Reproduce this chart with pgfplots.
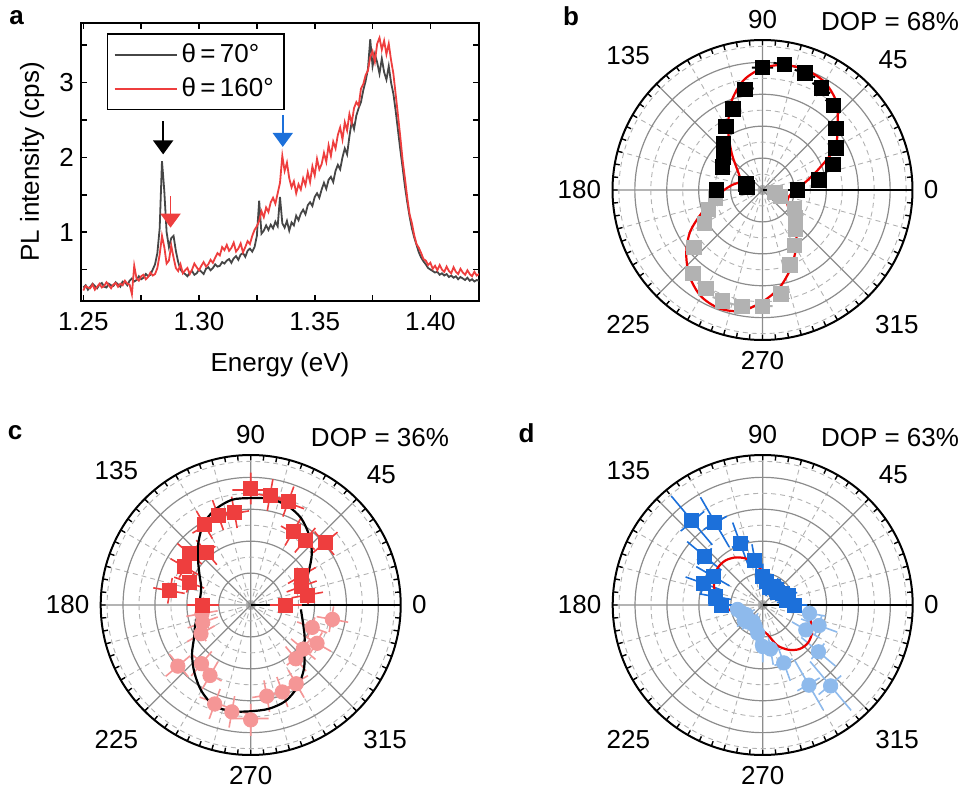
\documentclass[border=0pt]{standalone}
\usepackage{pgfplots}
\pgfplotsset{compat=1.18}
\usepackage{pgfplotstable}
\usepgfplotslibrary{polar}
\usetikzlibrary{arrows.meta}
\usepackage{fontspec}
\setmainfont{Liberation Sans}
\definecolor{dgray}{RGB}{70,70,70}
\definecolor{sred}{RGB}{238,62,62}
\definecolor{fitred}{RGB}{235,0,0}
\definecolor{pink}{RGB}{245,150,150}
\definecolor{lgray}{RGB}{178,178,178}
\definecolor{dblue}{RGB}{28,112,218}
\definecolor{lblue}{RGB}{142,186,236}

\pgfplotstableread{
x g r
1.250 .26 .22
1.251 .29 .28
1.252 .23 .26
1.253 .27 .25
1.254 .31 .30
1.255 .28 .23
1.256 .25 .27
1.257 .30 .31
1.258 .32 .26
1.259 .27 .28
1.260 .26 .33
1.261 .31 .29
1.262 .29 .25
1.263 .28 .30
1.264 .33 .32
1.265 .30 .27
1.266 .27 .31
1.267 .34 .29
1.268 .33 .35
1.269 .29 .31
1.270 .35 .30
1.271 .38 .17
1.272 .34 .55
1.273 .36 .38
1.274 .41 .35
1.275 .37 .41
1.276 .39 .43
1.277 .44 .37
1.278 .41 .40
1.279 .43 .46
1.280 .50 .42
1.281 .57 .44
1.282 .72 .52
1.283 1.05 .70
1.284 1.95 .95
1.285 1.55 .80
1.286 1.00 .58
1.287 .80 .62
1.288 .92 .82
1.289 .95 .66
1.290 .75 .52
1.291 .60 .48
1.292 .50 .57
1.293 .46 .45
1.294 .44 .49
1.295 .41 .52
1.296 .46 .44
1.297 .48 .50
1.298 .43 .58
1.299 .45 .53
1.300 .50 .49
1.301 .47 .55
1.302 .44 .60
1.303 .51 .54
1.304 .53 .57
1.305 .49 .63
1.306 .52 .59
1.307 .57 .66
1.308 .54 .72
1.309 .55 .69
1.310 .60 .80
1.311 .58 .76
1.312 .62 .83
1.313 .64 .75
1.314 .59 .79
1.315 .65 .86
1.316 .68 .74
1.317 .63 .78
1.318 .70 .85
1.319 .72 .73
1.320 .67 .80
1.321 .75 .88
1.322 .78 .84
1.323 .74 .95
1.324 .80 1.03
1.325 .95 1.08
1.326 1.42 1.15
1.327 .98 1.28
1.328 1.02 1.20
1.329 1.09 1.33
1.330 1.03 1.27
1.331 1.10 1.40
1.332 1.05 1.46
1.333 1.14 1.38
1.334 1.08 1.52
1.335 1.47 1.66
1.336 1.12 2.02
1.337 1.06 1.82
1.338 1.15 1.93
1.339 1.02 1.72
1.340 1.13 1.60
1.341 1.09 1.68
1.342 1.22 1.52
1.343 1.16 1.64
1.344 1.25 1.57
1.345 1.30 1.72
1.346 1.24 1.63
1.347 1.36 1.80
1.348 1.40 1.67
1.349 1.35 1.88
1.350 1.47 1.76
1.351 1.52 1.98
1.352 1.46 1.84
1.353 1.57 1.91
1.354 1.66 2.06
1.355 1.58 1.94
1.356 1.70 2.16
1.357 1.74 2.02
1.358 1.67 2.21
1.359 1.82 2.12
1.360 1.90 2.30
1.361 1.84 2.40
1.362 2.00 2.24
1.363 2.12 2.47
1.364 2.04 2.36
1.365 2.28 2.58
1.366 2.48 2.46
1.367 2.38 2.66
1.368 2.56 2.74
1.369 2.66 2.69
1.370 2.74 2.92
1.371 2.90 2.98
1.372 3.02 3.10
1.373 3.18 3.16
1.374 3.58 3.34
1.375 3.22 3.42
1.376 3.38 3.28
1.377 3.27 3.52
1.378 3.12 3.60
1.379 3.32 3.44
1.380 3.14 3.56
1.381 3.04 3.38
1.382 3.22 3.52
1.383 3.00 3.30
1.384 2.85 3.12
1.385 2.62 2.84
1.386 2.36 2.56
1.387 2.10 2.27
1.388 1.86 1.96
1.389 1.61 1.72
1.390 1.40 1.46
1.391 1.21 1.24
1.392 1.05 1.12
1.393 .93 .96
1.394 .83 .84
1.395 .73 .79
1.396 .66 .72
1.397 .61 .64
1.398 .57 .62
1.399 .52 .56
1.400 .50 .59
1.401 .48 .51
1.402 .46 .55
1.403 .47 .49
1.404 .43 .56
1.405 .45 .50
1.406 .42 .47
1.407 .44 .54
1.408 .40 .48
1.409 .42 .45
1.410 .39 .53
1.411 .41 .47
1.412 .37 .44
1.413 .40 .51
1.414 .38 .46
1.415 .36 .43
1.416 .39 .49
1.417 .35 .44
1.418 .37 .41
1.419 .34 .47
1.420 .36 .42
1.421 .35 .44
}\spec

\pgfplotsset{
  /pgf/number format/assume math mode=true,
  mypolar/.style={
    scale only axis, width=150pt, height=150pt,
    anchor=center,
    ymin=0, ymax=4.7,
    xtick={0,45,...,315},
    xticklabels={0,45,90,135,180,225,270,315},
    minor xtick={15,30,60,75,105,120,150,165,195,210,240,255,285,300,330,345},
    extra x ticks={5,10,20,25,35,40,50,55,65,70,80,85,95,100,110,115,125,130,140,145,155,160,170,175,185,190,200,205,215,220,230,235,245,250,260,265,275,280,290,295,305,310,320,325,335,340,350,355},
    extra x tick labels={},
    extra x tick style={grid=none},
    ytick={1,2,3,4}, minor ytick={0.5,1.5,2.5,3.5,4.5},
    yticklabels={},
    ytick style={draw=none},
    xmajorgrids, xminorgrids, ymajorgrids, yminorgrids,
    major grid style={draw=black!45, line width=0.6pt},
    minor grid style={draw=black!30, line width=0.45pt, dash pattern=on 2.5pt off 2pt},
    tick align=outside, major tick length=2.5pt, minor tick length=2.5pt,
    xtick style={line width=0.7pt, black},
    axis line style={line width=1pt},
    xticklabel style={inner sep=8pt},
    unbounded coords=jump,
  }
}

\begin{document}
\begin{tikzpicture}[font=\fontsize{13}{15}\selectfont]
\useasboundingbox (0,0) rectangle (482pt,-398pt);

% ---------- panel a ----------
\begin{axis}[
  at={(40.5pt,-11.4pt)}, anchor=north west,
  scale only axis, width=199pt, height=139pt,
  xmin=1.249, xmax=1.421, ymin=0.082, ymax=3.80,
  xtick={1.25,1.30,1.35,1.40}, minor xtick={1.275,1.325,1.375,1.425},
  ytick={1,2,3}, minor ytick={0.5,1.5,2.5,3.5},
  xticklabel style={yshift=-2pt, /pgf/number format/fixed, /pgf/number format/fixed zerofill, /pgf/number format/precision=2},
  tick align=inside, major tick length=3pt, minor tick length=3pt,
  tick style={line width=0.8pt, black},
  axis line style={line width=1pt},
  xlabel={Energy (eV)}, ylabel={PL intensity (cps)},
  xlabel style={at={(axis description cs:0.5,-0.23)}, anchor=center},
  ylabel style={at={(axis description cs:-0.123,0.5)}, anchor=center},
  legend style={at={(0.065,0.963)}, anchor=north west, draw=black, line width=0.8pt,
    inner xsep=3pt, inner ysep=3pt, row sep=2pt,
    font=\fontsize{13}{15}\selectfont},
  legend cell align=left,
  legend image code/.code={\draw[#1, line width=1pt] (0pt,0pt) -- (31pt,0pt);},
]
\addplot[dgray, line width=0.9pt] table[x=x, y=g] {\spec};
\addlegendentry{θ\,=\,70°}
\addplot[sred, line width=0.9pt] table[x=x, y=r] {\spec};
\addlegendentry{θ\,=\,160°}
\draw[black, line width=0.9pt, -{Triangle[width=10pt,length=7pt]}] (axis cs:1.2845,2.48) -- (axis cs:1.2845,2.04);
\draw[sred, line width=0.9pt, -{Triangle[width=10pt,length=7pt]}] (axis cs:1.2877,1.48) -- (axis cs:1.2877,1.06);
\draw[dblue, line width=0.9pt, -{Triangle[width=10pt,length=7pt]}] (axis cs:1.3362,2.57) -- (axis cs:1.3362,2.14);
\end{axis}

% ---------- panel b ----------
\begin{polaraxis}[mypolar, at={(381.25pt,-95pt)}]
\addplot[lgray, line width=1pt] coordinates {
(190,1.35)(190,1.65)(190,nan) (185,1.5)(195,1.5)(190,nan)
(200,1.65)(200,1.95)(200,nan) (195,1.8)(205,1.8)(200,nan)
(210,1.95)(210,2.25)(210,nan) (205,2.1)(215,2.1)(210,nan)
(220,2.65)(220,2.95)(220,nan) (215,2.8)(225,2.8)(220,nan)
(230,3.25)(230,3.55)(230,nan) (225,3.4)(235,3.4)(230,nan)
(240,3.4)(240,3.7)(240,nan) (235,3.55)(245,3.55)(240,nan)
(250,3.55)(250,3.85)(250,nan) (245,3.7)(255,3.7)(250,nan)
(260,3.55)(260,3.85)(260,nan) (255,3.7)(265,3.7)(260,nan)
(270,3.5)(270,3.8)(270,nan) (265,3.65)(275,3.65)(270,nan)
(280,3.15)(280,3.45)(280,nan) (275,3.3)(285,3.3)(280,nan)
(290,2.35)(290,2.65)(290,nan) (285,2.5)(295,2.5)(290,nan)
(300,1.85)(300,2.15)(300,nan) (295,2.0)(305,2.0)(300,nan)
(310,1.45)(310,1.75)(310,nan) (305,1.6)(315,1.6)(310,nan)
(320,1.2)(320,1.5)(320,nan) (315,1.35)(325,1.35)(320,nan)
(330,1.0)(330,1.3)(330,nan) (325,1.15)(335,1.15)(330,nan)
(340,0.45)(340,0.75)(340,nan) (335,0.6)(345,0.6)(340,nan)
(350,0.25)(350,0.55)(350,nan) (345,0.4)(355,0.4)(350,nan)};
\addplot[only marks, mark=square*, mark size=3.6pt, lgray] coordinates {
  (190,1.5) (200,1.8) (210,2.1) (220,2.8) (230,3.4) (240,3.55) (250,3.7)
  (260,3.7) (270,3.65) (280,3.3) (290,2.5) (300,2.0) (310,1.6) (320,1.35)
  (330,1.15) (340,0.6) (350,0.4)};
\addplot[black, line width=1pt] coordinates {
(0,0.95)(0,1.25)(0,nan) (-5,1.1)(5,1.1)(0,nan)
(10,1.65)(10,1.95)(10,nan) (5,1.8)(15,1.8)(10,nan)
(20,2.2)(20,2.5)(20,nan) (15,2.35)(25,2.35)(20,nan)
(30,2.5)(30,2.8)(30,nan) (25,2.65)(35,2.65)(30,nan)
(40,2.85)(40,3.15)(40,nan) (35,3.0)(45,3.0)(40,nan)
(50,3.3)(50,3.6)(50,nan) (45,3.45)(55,3.45)(50,nan)
(60,3.55)(60,3.85)(60,nan) (55,3.7)(65,3.7)(60,nan)
(70,3.75)(70,4.05)(70,nan) (65,3.9)(75,3.9)(70,nan)
(80,3.85)(80,4.15)(80,nan) (75,4.0)(85,4.0)(80,nan)
(90,3.7)(90,4.0)(90,nan) (85,3.85)(95,3.85)(90,nan)
(100,3.05)(100,3.35)(100,nan) (95,3.2)(105,3.2)(100,nan)
(110,2.55)(110,2.85)(110,nan) (105,2.7)(115,2.7)(110,nan)
(120,2.15)(120,2.45)(120,nan) (115,2.3)(125,2.3)(120,nan)
(130,1.75)(130,2.05)(130,nan) (125,1.9)(135,1.9)(130,nan)
(140,1.45)(140,1.75)(140,nan) (135,1.6)(145,1.6)(140,nan)
(150,1.3)(150,1.6)(150,nan) (145,1.45)(155,1.45)(150,nan)
(160,0.4)(160,0.7)(160,nan) (155,0.55)(165,0.55)(160,nan)
(170,0.35)(170,0.65)(170,nan) (165,0.5)(175,0.5)(170,nan)
(180,1.3)(180,1.6)(180,nan) (175,1.45)(185,1.45)(180,nan)};
\addplot[only marks, mark=square*, mark size=3.6pt, black] coordinates {
  (0,1.1) (10,1.8) (20,2.35) (30,2.65) (40,3.0) (50,3.45) (60,3.7) (70,3.9)
  (80,4.0) (90,3.85) (100,3.2) (110,2.7) (120,2.3) (130,1.9) (140,1.6)
  (150,1.45) (160,0.55) (170,0.5) (180,1.45)};
\addplot[fitred, line width=1.1pt, smooth] coordinates {
  (0,1.0) (10,1.35) (20,1.85) (30,2.62) (40,3.07) (50,3.6) (60,3.9)
  (70,4.0) (80,3.98) (90,3.82) (100,3.48) (110,2.9) (120,2.15) (130,1.5)
  (140,1.05) (150,0.82) (160,0.75) (170,0.95) (180,1.2) (190,1.5) (200,2.0)
  (210,2.62) (220,3.12) (230,3.55) (240,3.85) (250,3.95) (260,3.85)
  (270,3.5) (280,3.1) (290,2.6) (300,2.1) (310,1.63) (320,1.15) (330,0.9)
  (340,0.84) (350,0.88) (360,1.0)};
\end{polaraxis}

% ---------- panel c ----------
\begin{polaraxis}[mypolar, at={(125.35pt,-302.5pt)}]
\addplot[pink, line width=0.8pt] coordinates {
(190,1.05)(190,2.05)(190,nan)(181,1.55)(199,1.55)(190,nan)
(200,1.1)(200,2.1)(200,nan)(191,1.6)(209,1.6)(200,nan)
(210,1.3)(210,2.3)(210,nan)(201,1.8)(219,1.8)(210,nan)
(220,2.48)(220,3.48)(220,nan)(211,2.98)(229,2.98)(220,nan)
(230,1.9)(230,2.9)(230,nan)(221,2.4)(239,2.4)(230,nan)
(240,2.05)(240,3.05)(240,nan)(231,2.55)(249,2.55)(240,nan)
(250,2.8)(250,3.8)(250,nan)(241,3.3)(259,3.3)(250,nan)
(260,2.9)(260,3.9)(260,nan)(251,3.4)(269,3.4)(260,nan)
(270,3.1)(270,4.1)(270,nan)(261,3.6)(279,3.6)(270,nan)
(280,2.4)(280,3.4)(280,nan)(271,2.9)(289,2.9)(280,nan)
(290,2.4)(290,3.4)(290,nan)(281,2.9)(299,2.9)(290,nan)
(300,2.35)(300,3.35)(300,nan)(291,2.85)(309,2.85)(300,nan)
(310,1.7)(310,2.7)(310,nan)(301,2.2)(319,2.2)(310,nan)
(320,1.65)(320,2.65)(320,nan)(311,2.15)(329,2.15)(320,nan)
(330,1.9)(330,2.9)(330,nan)(321,2.4)(339,2.4)(330,nan)
(340,1.55)(340,2.55)(340,nan)(331,2.05)(349,2.05)(340,nan)
(350,2.1)(350,3.1)(350,nan)(341,2.6)(359,2.6)(350,nan)};
\addplot[only marks, mark=*, mark size=3.6pt, pink] coordinates {
  (190,1.55) (200,1.6) (210,1.8) (220,2.98) (230,2.4) (240,2.55) (250,3.3)
  (260,3.4) (270,3.6) (280,2.9) (290,2.9) (300,2.85) (310,2.2) (320,2.15)
  (330,2.4) (340,2.05) (350,2.6)};
\addplot[sred, line width=0.8pt] coordinates {
(0,0.6)(0,1.6)(0,nan)(-9,1.1)(9,1.1)(0,nan)
(10,1.3)(10,2.3)(10,nan)(1,1.8)(19,1.8)(10,nan)
(20,1.2)(20,2.2)(20,nan)(11,1.7)(29,1.7)(20,nan)
(30,1.35)(30,2.35)(30,nan)(21,1.85)(39,1.85)(30,nan)
(40,2.55)(40,3.55)(40,nan)(31,3.05)(49,3.05)(40,nan)
(50,2.15)(50,3.15)(50,nan)(41,2.65)(59,2.65)(50,nan)
(60,2.15)(60,3.15)(60,nan)(51,2.65)(69,2.65)(60,nan)
(70,2.95)(70,3.95)(70,nan)(61,3.45)(79,3.45)(70,nan)
(80,3.0)(80,4.0)(80,nan)(71,3.5)(89,3.5)(80,nan)
(90,3.15)(90,4.15)(90,nan)(81,3.65)(99,3.65)(90,nan)
(100,2.45)(100,3.45)(100,nan)(91,2.95)(109,2.95)(100,nan)
(110,2.5)(110,3.5)(110,nan)(101,3.0)(119,3.0)(110,nan)
(120,2.4)(120,3.4)(120,nan)(111,2.9)(129,2.9)(120,nan)
(130,1.65)(130,2.65)(130,nan)(121,2.15)(139,2.15)(130,nan)
(140,2.0)(140,3.0)(140,nan)(131,2.5)(149,2.5)(140,nan)
(150,1.9)(150,2.9)(150,nan)(141,2.4)(159,2.4)(150,nan)
(160,1.55)(160,2.55)(160,nan)(151,2.05)(169,2.05)(160,nan)
(170,2.1)(170,3.1)(170,nan)(161,2.6)(179,2.6)(170,nan)
(180,1.0)(180,2.0)(180,nan)(171,1.5)(189,1.5)(180,nan)};
\addplot[only marks, mark=square*, mark size=3.5pt, sred] coordinates {
  (0,1.1) (10,1.8) (20,1.7) (30,1.85) (40,3.05) (50,2.65) (60,2.65) (70,3.45)
  (80,3.5) (90,3.65) (100,2.95) (110,3.0) (120,2.9) (130,2.15) (140,2.5)
  (150,2.4) (160,2.05) (170,2.6) (180,1.5)};
\addplot[black, line width=1.1pt, smooth] coordinates {
  (5,1.58) (10,1.62) (20,1.8) (30,2.1) (40,2.5) (50,2.85) (60,3.15) (70,3.32)
  (80,3.38) (90,3.35) (100,3.35) (110,3.2) (120,2.95) (130,2.55) (140,2.15)
  (150,1.85) (160,1.65) (170,1.6) (180,1.62) (190,1.68) (200,1.85) (210,2.05)
  (220,2.4) (230,2.75) (240,3.1) (250,3.36) (260,3.38) (270,3.33) (280,3.3)
  (290,3.2) (300,2.95) (310,2.6) (320,2.2) (330,1.95) (340,1.75) (350,1.62)
  (355,1.58)};
\end{polaraxis}

% ---------- panel d ----------
\begin{polaraxis}[mypolar, at={(381.35pt,-302.5pt)}]
\addplot[lblue, line width=0.8pt] coordinates {
(190,0.5)(190,1.1)(190,nan)(180,0.8)(200,0.8)(190,nan)
(200,0.4)(200,1.0)(200,nan)(190,0.7)(210,0.7)(200,nan)
(210,0.3)(210,0.9)(210,nan)(200,0.6)(220,0.6)(210,nan)
(220,0.45)(220,1.05)(220,nan)(210,0.75)(230,0.75)(220,nan)
(230,0.4)(230,1.0)(230,nan)(220,0.7)(240,0.7)(230,nan)
(240,0.3)(240,0.9)(240,nan)(230,0.6)(250,0.6)(240,nan)
(250,0.4)(250,1.0)(250,nan)(240,0.7)(260,0.7)(250,nan)
(260,0.5)(260,1.3)(260,nan)(250,0.9)(270,0.9)(260,nan)
(270,0.8)(270,1.8)(270,nan)(260,1.3)(280,1.3)(270,nan)
(280,0.9)(280,1.9)(280,nan)(270,1.4)(290,1.4)(280,nan)
(290,1.33)(290,2.53)(290,nan)(281,1.93)(299,1.93)(290,nan)
(300,2.0)(300,3.8)(300,nan)(292,2.9)(308,2.9)(300,nan)
(310,2.31)(310,4.31)(310,nan)(302,3.31)(318,3.31)(310,nan)
(320,1.58)(320,2.98)(320,nan)(312,2.28)(328,2.28)(320,nan)
(330,1.06)(330,2.06)(330,nan)(321,1.56)(339,1.56)(330,nan)
(340,1.28)(340,2.48)(340,nan)(331,1.88)(349,1.88)(340,nan)
(350,0.99)(350,1.99)(350,nan)(341,1.49)(359,1.49)(350,nan)};
\addplot[only marks, mark=*, mark size=3.6pt, lblue] coordinates {
  (190,0.8) (200,0.7) (210,0.6) (220,0.75) (230,0.7) (240,0.6) (250,0.7)
  (260,0.9) (270,1.3) (280,1.4) (290,1.93) (300,2.9) (310,3.31) (320,2.28)
  (330,1.56) (340,1.88) (350,1.49)};
\addplot[dblue, line width=0.8pt] coordinates {
(0,0.6)(0,1.4)(0,nan)(-10,1.0)(10,1.0)(0,nan)
(10,0.45)(10,1.05)(10,nan)(0,0.75)(20,0.75)(10,nan)
(20,0.55)(20,1.15)(20,nan)(10,0.85)(30,0.85)(20,nan)
(30,0.4)(30,1.0)(30,nan)(20,0.7)(40,0.7)(30,nan)
(40,0.3)(40,0.9)(40,nan)(30,0.6)(50,0.6)(40,nan)
(50,0.35)(50,0.95)(50,nan)(40,0.65)(60,0.65)(50,nan)
(60,0.36)(60,0.96)(60,nan)(50,0.66)(70,0.66)(60,nan)
(70,0.3)(70,0.9)(70,nan)(60,0.6)(80,0.6)(70,nan)
(80,0.45)(80,1.05)(80,nan)(70,0.75)(90,0.75)(80,nan)
(90,0.5)(90,1.3)(90,nan)(80,0.9)(100,0.9)(90,nan)
(100,0.93)(100,1.93)(100,nan)(91,1.43)(109,1.43)(100,nan)
(110,1.35)(110,2.75)(110,nan)(102,2.05)(118,2.05)(110,nan)
(120,2.1)(120,3.9)(120,nan)(112,3.0)(128,3.0)(120,nan)
(130,2.46)(130,4.46)(130,nan)(122,3.46)(138,3.46)(130,nan)
(140,1.69)(140,3.09)(140,nan)(132,2.39)(148,2.39)(140,nan)
(150,1.2)(150,2.4)(150,nan)(141,1.8)(159,1.8)(150,nan)
(160,1.37)(160,2.57)(160,nan)(151,1.97)(169,1.97)(160,nan)
(170,1.01)(170,2.01)(170,nan)(161,1.51)(179,1.51)(170,nan)
(180,0.9)(180,1.7)(180,nan)(170,1.3)(190,1.3)(180,nan)};
\addplot[only marks, mark=square*, mark size=3.5pt, dblue] coordinates {
  (0,1.0) (10,0.75) (20,0.85) (30,0.7) (40,0.6) (50,0.65) (60,0.66) (70,0.6)
  (80,0.75) (90,0.9) (100,1.43) (110,2.05) (120,3.0) (130,3.46) (140,2.39)
  (150,1.8) (160,1.97) (170,1.51) (180,1.3)};
\addplot[fitred, line width=1.1pt, smooth] coordinates {
  (0,1.2) (10,1.0) (20,0.78) (30,0.6) (40,0.5) (50,0.46) (60,0.55) (70,0.65)
  (80,0.8) (90,1.05) (100,1.3) (110,1.55) (120,1.72) (130,1.82) (140,1.83)
  (150,1.75) (160,1.62) (170,1.45) (180,1.3) (190,1.0) (200,0.72) (210,0.55)
  (220,0.45) (230,0.42) (240,0.42) (250,0.55) (260,0.68) (270,0.8) (280,0.95)
  (290,1.35) (300,1.62) (310,1.8) (320,1.85) (330,1.78) (340,1.62) (350,1.45)};
\end{polaraxis}

% ---------- panel letters and DOP ----------
\node[font=\fontsize{13}{15}\selectfont\bfseries] at (8.3pt,-9pt) {a};
\node[font=\fontsize{13}{15}\selectfont\bfseries] at (285.5pt,-8pt) {b};
\node[font=\fontsize{13}{15}\selectfont\bfseries] at (7.5pt,-216.5pt) {c};
\node[font=\fontsize{13}{15}\selectfont\bfseries] at (263.3pt,-216.5pt) {d};
\node at (445pt,-10.8pt) {DOP = 68\%};
\node at (190pt,-219pt) {DOP = 36\%};
\node at (445pt,-219pt) {DOP = 63\%};
\end{tikzpicture}
\end{document}
